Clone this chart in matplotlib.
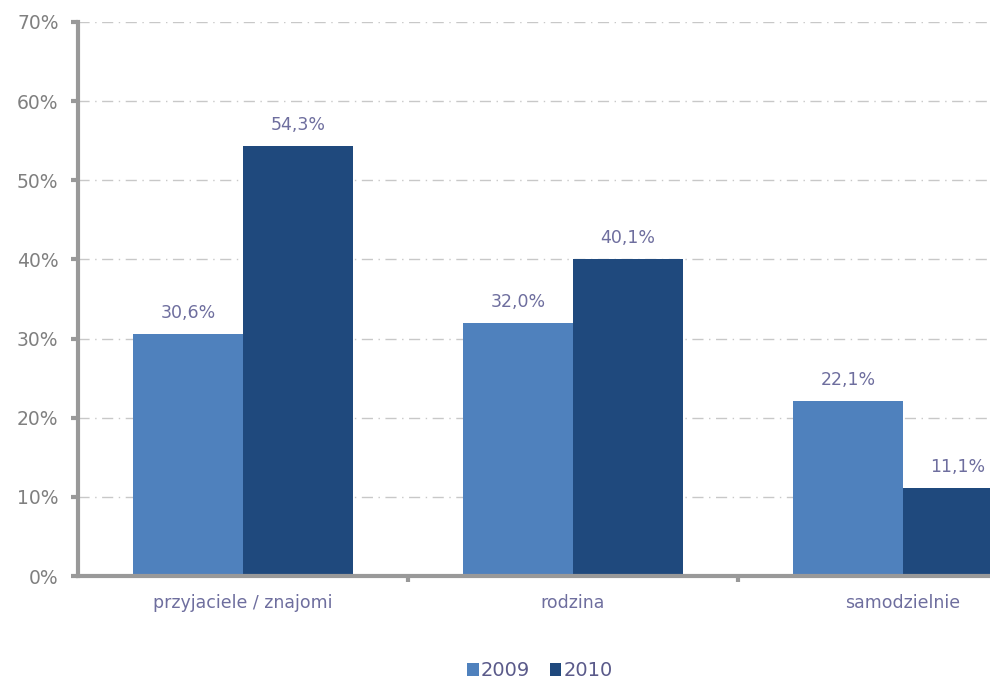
import matplotlib.pyplot as plt
import numpy as np
from matplotlib.ticker import FixedLocator, NullFormatter

categories = ["przyjaciele / znajomi", "rodzina", "samodzielnie"]
years = ["2009", "2010"]
values_2009 = [30.6, 32.0, 22.1]
values_2010 = [54.3, 40.1, 11.1]

colors = ["#4F81BD", "#1F497D"]
axis_gray = "#999999"
label_color = "#6E6E9E"

fig = plt.figure(figsize=(9.9, 6.84), dpi=100)
ax = fig.add_axes([78 / 990, 1 - 576 / 684, 1 - 78 / 990, (576 - 22) / 684])

x = np.arange(len(categories))
width = 1 / 3
for i, (vals, year) in enumerate(zip([values_2009, values_2010], years)):
    pos = x + (i - 0.5) * width
    ax.bar(pos, vals, width, color=colors[i], label=year, zorder=3)
    for px, v in zip(pos, vals):
        ax.text(px, v + 1.5, f"{v:.1f}%".replace(".", ","), ha="center",
                va="bottom", fontsize=12.5, color=label_color)

# third group runs off the right edge
ax.set_xlim(-0.5, 2.5 - 78 / 330)
ax.set_ylim(0, 70)

ax.set_yticks(np.arange(0, 71, 10))
ax.set_yticklabels([f"{t}%" for t in range(0, 71, 10)])
ax.yaxis.grid(True, color="#C8C8C8", linestyle=(0, (8, 4, 1, 4)), linewidth=1, zorder=0)

ax.xaxis.set_major_locator(FixedLocator([0.5, 1.5]))
ax.xaxis.set_major_formatter(NullFormatter())
ax.xaxis.set_minor_locator(FixedLocator(x))
ax.set_xticklabels(categories, minor=True)
ax.tick_params(axis="x", which="minor", length=0, pad=13, labelsize=12.5, labelcolor=label_color)
ax.tick_params(axis="x", which="major", length=4, width=3, color=axis_gray, direction="out")
ax.tick_params(axis="y", length=5, width=3, color=axis_gray, direction="out",
               labelsize=13.5, labelcolor="#808080", pad=9)

for side in ["top", "right"]:
    ax.spines[side].set_visible(False)
for side in ["left", "bottom"]:
    ax.spines[side].set_color(axis_gray)
    ax.spines[side].set_linewidth(3)
    ax.spines[side].set_zorder(4)

fig.legend(loc="center", bbox_to_anchor=(540 / 990, 1 - 671 / 684), ncol=2,
           frameon=False, fontsize=14, labelcolor="#5A5A8A", handlelength=0.6,
           handleheight=0.6, handletextpad=0.1, columnspacing=1.0,
           borderpad=0.1)

fig.savefig("out.png", dpi=100)
